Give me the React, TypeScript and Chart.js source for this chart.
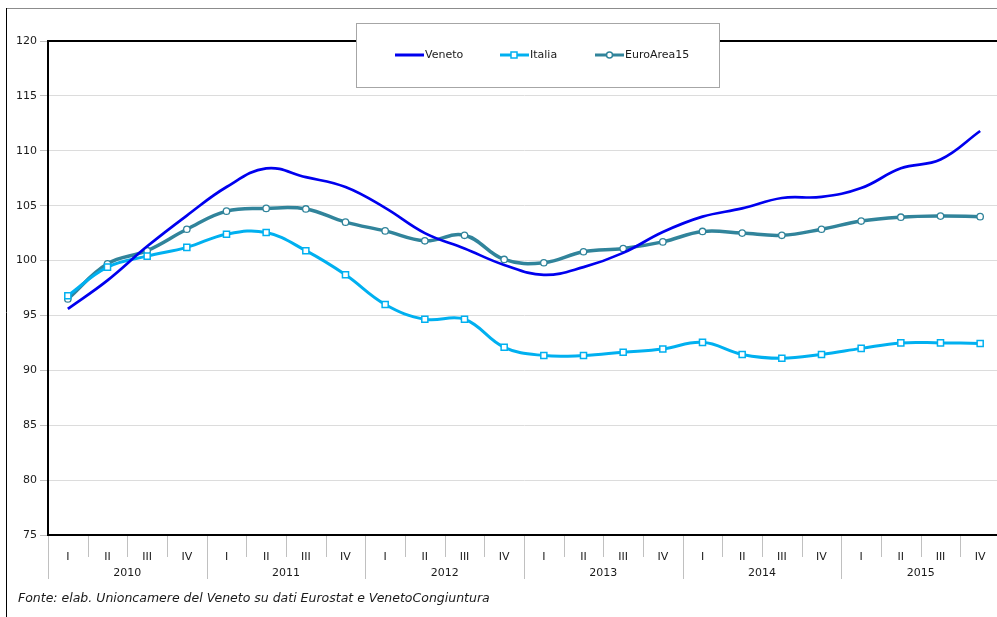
import React, { useEffect, useRef } from "react";
import { Chart, registerables } from "chart.js";

Chart.register(...registerables);

const quarters = ["I", "II", "III", "IV", "I", "II", "III", "IV", "I", "II", "III", "IV", "I", "II", "III", "IV", "I", "II", "III", "IV", "I", "II", "III", "IV"];
const years = ["2010", "2011", "2012", "2013", "2014", "2015"];

const veneto = [95.6, 98.2, 101.3, 104.1, 106.7, 108.4, 107.6, 106.7, 104.8, 102.5, 101.1, 99.6, 98.7, 99.4, 100.7, 102.6, 104.0, 104.75, 105.7, 105.8, 106.6, 108.4, 109.2, 111.8];
const italia = [96.8, 99.4, 100.4, 101.2, 102.4, 102.55, 100.9, 98.7, 96.0, 94.65, 94.65, 92.1, 91.35, 91.35, 91.65, 91.95, 92.55, 91.45, 91.1, 91.45, 92.0, 92.5, 92.5, 92.45];
const euroArea = [96.5, 99.7, 100.9, 102.85, 104.5, 104.75, 104.7, 103.5, 102.7, 101.8, 102.3, 100.1, 99.8, 100.8, 101.1, 101.7, 102.65, 102.5, 102.3, 102.85, 103.6, 103.95, 104.05, 104.0];

const seriesNames = ["Veneto", "Italia", "EuroArea15"];
const yTicks = { min: 75, max: 120, step: 5 };
const footnote = "Fonte: elab. Unioncamere del Veneto su dati Eurostat e VenetoCongiuntura";

const COLORS = { veneto: "#0000ee", italia: "#00b0f0", euro: "#31849b" };
const FONT = "'DejaVu Sans', sans-serif";
const TEXT = "#1a1a1a";

const framePlugin = {
  id: "frame",
  afterDraw(chart: any) {
    const ctx = chart.ctx;
    const area = chart.chartArea;
    const x = chart.scales.x;
    ctx.save();
    // outer frame
    ctx.strokeStyle = "#8c8c8c";
    ctx.lineWidth = 1;
    ctx.beginPath();
    ctx.moveTo(6, 8.5);
    ctx.lineTo(chart.width, 8.5);
    ctx.stroke();
    ctx.strokeStyle = "#000";
    ctx.beginPath();
    ctx.moveTo(6.5, 8);
    ctx.lineTo(6.5, chart.height);
    ctx.stroke();

    // plot top border
    ctx.strokeStyle = "#000";
    ctx.lineWidth = 2;
    ctx.beginPath();
    ctx.moveTo(area.left - 1, area.top);
    ctx.lineTo(area.right, area.top);
    ctx.stroke();

    // x-axis separators
    const n = quarters.length;
    const w = (area.right - area.left) / n;
    ctx.strokeStyle = "#c0c0c0";
    ctx.lineWidth = 1;
    for (let i = 0; i <= n; i++) {
      const px = Math.round(x.getPixelForValue(i) - w / 2) + 0.5;
      const len = i % 4 === 0 ? 44 : 22;
      ctx.beginPath();
      ctx.moveTo(px, area.bottom + 1);
      ctx.lineTo(px, area.bottom + len);
      ctx.stroke();
    }
    // year labels
    ctx.fillStyle = TEXT;
    ctx.font = `11px ${FONT}`;
    ctx.textAlign = "center";
    ctx.textBaseline = "middle";
    years.forEach((yr, k) => {
      const a = x.getPixelForValue(k * 4) - w / 2;
      const b = x.getPixelForValue(k * 4 + 3) + w / 2;
      ctx.fillText(yr, (a + b) / 2, area.bottom + 38);
    });

    // legend box
    const lx = 356.5, ly = 23.5, lw = 363, lh = 64;
    ctx.fillStyle = "#fff";
    ctx.fillRect(lx, ly, lw, lh);
    ctx.strokeStyle = "#a6a6a6";
    ctx.lineWidth = 1;
    ctx.strokeRect(lx, ly, lw, lh);
    const cy = 55;
    const items = [
      { x0: 395, name: seriesNames[0], ds: chart.data.datasets[0] },
      { x0: 500, name: seriesNames[1], ds: chart.data.datasets[1] },
      { x0: 595, name: seriesNames[2], ds: chart.data.datasets[2] },
    ];
    items.forEach((it) => {
      const ds = it.ds;
      ctx.strokeStyle = ds.borderColor;
      ctx.lineWidth = 3;
      ctx.beginPath();
      ctx.moveTo(it.x0, cy);
      ctx.lineTo(it.x0 + 29, cy);
      ctx.stroke();
      if (ds.pointStyle === "rect") {
        ctx.fillStyle = "#fff";
        ctx.strokeStyle = ds.borderColor;
        ctx.lineWidth = 1.5;
        ctx.fillRect(it.x0 + 11, cy - 3, 6, 6);
        ctx.strokeRect(it.x0 + 11, cy - 3, 6, 6);
      } else if (ds.pointStyle === "circle" && ds.pointRadius > 0) {
        ctx.fillStyle = "#fff";
        ctx.strokeStyle = ds.borderColor;
        ctx.lineWidth = 1.5;
        ctx.beginPath();
        ctx.arc(it.x0 + 14.5, cy, 3, 0, Math.PI * 2);
        ctx.fill();
        ctx.stroke();
      }
      ctx.fillStyle = TEXT;
      ctx.font = `11px ${FONT}`;
      ctx.textAlign = "left";
      ctx.textBaseline = "middle";
      ctx.fillText(it.name, it.x0 + 30, cy);
    });
    ctx.restore();
  },
};

export default function App() {
  const ref = useRef<HTMLCanvasElement | null>(null);

  useEffect(() => {
    const canvas = ref.current;
    if (!canvas) return;
    const chart = new Chart(canvas, {
      type: "line",
      data: {
        labels: quarters,
        datasets: [
          {
            label: seriesNames[0],
            data: veneto,
            borderColor: COLORS.veneto,
            backgroundColor: COLORS.veneto,
            borderWidth: 2.7,
            pointRadius: 0,
            pointStyle: "circle",
            tension: 0.4,
          },
          {
            label: seriesNames[1],
            data: italia,
            borderColor: COLORS.italia,
            backgroundColor: "#fff",
            borderWidth: 3,
            pointStyle: "rect",
            pointRadius: 4.3,
            pointBorderWidth: 1.5,
            pointBackgroundColor: "#fff",
            pointBorderColor: COLORS.italia,
            tension: 0.4,
          },
          {
            label: seriesNames[2],
            data: euroArea,
            borderColor: COLORS.euro,
            backgroundColor: "#fff",
            borderWidth: 3.5,
            pointStyle: "circle",
            pointRadius: 3.2,
            pointBorderWidth: 1.3,
            pointBackgroundColor: "#fff",
            pointBorderColor: COLORS.euro,
            tension: 0.4,
          },
        ],
      },
      options: {
        responsive: false,
        animation: false,
        devicePixelRatio: 1,
        layout: { padding: { left: 0, top: 41, right: 10, bottom: 0 } },
        plugins: { legend: { display: false }, tooltip: { enabled: false } },
        scales: {
          x: {
            type: "category",
            offset: true,
            grid: { display: false },
            border: { display: true, color: "#000", width: 2 },
            ticks: {
              color: TEXT,
              font: { family: FONT, size: 11 },
              padding: 8,
              maxRotation: 0,
              autoSkip: false,
            },
            afterFit: (s: any) => {
              s.height = 82;
            },
          },
          y: {
            min: yTicks.min,
            max: yTicks.max,
            ticks: {
              stepSize: yTicks.step,
              color: TEXT,
              font: { family: FONT, size: 11 },
              padding: 3,
            },
            grid: { color: "#dcdcdc", tickColor: "#bfbfbf", tickLength: 8, lineWidth: 1 },
            border: { display: true, color: "#000", width: 2 },
            afterFit: (s: any) => {
              s.width = 48;
            },
          },
        },
      },
      plugins: [framePlugin],
    });
    return () => chart.destroy();
  }, []);

  return (
    <div style={{ position: "absolute", left: 0, top: 0, width: 997, height: 617, overflow: "hidden", background: "#fff" }}>
      <canvas ref={ref} width={1010} height={617} style={{ width: 1010, height: 617, display: "block" }} />
      <div
        style={{
          position: "absolute",
          left: 18,
          top: 590,
          fontFamily: FONT,
          fontStyle: "italic",
          fontSize: 12.5,
          color: TEXT,
          whiteSpace: "nowrap",
        }}
      >
        {footnote}
      </div>
    </div>
  );
}
